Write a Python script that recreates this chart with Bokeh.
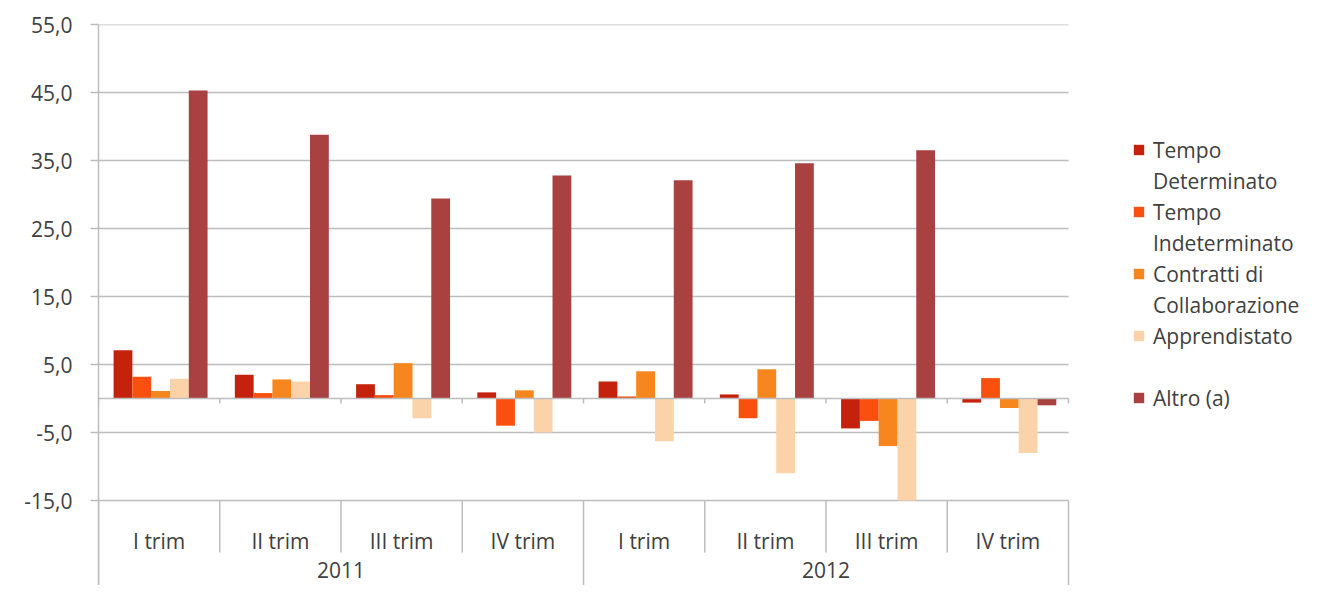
import numpy as np
from bokeh.plotting import figure
from bokeh.models import Range1d, Legend, LegendItem, ColumnDataSource
from bokeh.transform import dodge
from bokeh.embed import file_html
from bokeh.resources import INLINE
from bokeh.core.properties import value

# ---------------- data ----------------
years = ["2011", "2012"]
quarters = ["I trim", "II trim", "III trim", "IV trim"]

tempo_determinato = [7.1, 3.5, 2.1, 0.9, 2.5, 0.6, -4.4, -0.6]
tempo_indeterminato = [3.2, 0.8, 0.5, -4.0, 0.3, -2.9, -3.3, 3.0]
contratti_collaborazione = [1.1, 2.8, 5.2, 1.2, 4.0, 4.3, -7.0, -1.4]
apprendistato = [2.9, 2.5, -2.9, -5.0, -6.3, -11.0, -15.0, -8.0]
altro = [45.3, 38.8, 29.4, 32.8, 32.1, 34.6, 36.5, -1.0]

series_names = ["Tempo Determinato", "Tempo Indeterminato",
                "Contratti di Collaborazione", "Apprendistato", "Altro (a)"]
legend_lines = [["Tempo", "Determinato"], ["Tempo", "Indeterminato"],
                ["Contratti di", "Collaborazione"], ["Apprendistato", " "],
                ["Altro (a)"]]

y_ticks = [-15, -5, 5, 15, 25, 35, 45, 55]
y_tick_labels = ["-15,0", "-5,0", "5,0", "15,0", "25,0", "35,0", "45,0", "55,0"]

colors = ["#C4220C", "#FA500F", "#F7861E", "#FCD3A8", "#A8413F"]
TEXT = "#404040"
GRID = "#BDBDBD"
FONT = "Open Sans"
FS = "21px"

# ---------------- layout ----------------
W, H = 1303, 585
LEFT, TOP = 98, 24
PLOT_W = 970                      # width of the bar area in px
frame_h = H - TOP
y_min, y_max = y_ticks[0], y_ticks[-1]
axis_gap = 85
ppu = (frame_h - axis_gap) / (y_max - y_min)
y_start = y_min - axis_gap / ppu

n = len(years) * len(quarters)
ppx = PLOT_W / n
x_end = n + (W - LEFT - PLOT_W) / ppx
labels_q = [q for _ in years for q in quarters]
centers = np.arange(n) + 0.5
bw = 0.155

p = figure(width=W, height=H, output_backend="svg", toolbar_location=None,
           x_range=Range1d(0, x_end), y_range=Range1d(y_start, y_max),
           x_axis_location=None, min_border_left=LEFT, min_border_top=TOP,
           min_border_right=0, min_border_bottom=0,
           outline_line_color=None, background_fill_color="white")

p.xgrid.visible = False
p.ygrid.visible = False

ax = p.yaxis[0]
ax.ticker = y_ticks
ax.major_label_overrides = {t: l for t, l in zip(y_ticks, y_tick_labels)}
ax.axis_line_color = GRID
ax.axis_line_width = 1.5
ax.major_tick_line_color = GRID
ax.major_tick_line_width = 1.5
ax.major_tick_out = 8
ax.major_tick_in = 0
ax.minor_tick_line_color = None
ax.major_label_standoff = 18
ax.major_label_text_font = FONT
ax.major_label_text_font_size = FS
ax.major_label_text_color = TEXT

# horizontal gridlines over the bar area only
p.segment(x0=[0] * len(y_ticks), y0=y_ticks, x1=[n] * len(y_ticks), y1=y_ticks,
          line_color=GRID, line_width=1.5)

src = ColumnDataSource(dict(x=centers, td=tempo_determinato, ti=tempo_indeterminato,
                            cc=contratti_collaborazione, ap=apprendistato, al=altro))
cols = ["td", "ti", "cc", "ap", "al"]
renderers = []
for k, (c, col) in enumerate(zip(cols, colors)):
    r = p.vbar(x=dodge("x", (k - 2) * bw + 0.012, range=p.x_range), top=c, bottom=0,
               width=bw, source=src, fill_color=col, line_color=None)
    renderers.append(r)

# horizontal axis at zero with tick marks at category boundaries
bounds = np.arange(n + 1)
p.segment(x0=[0], y0=[0], x1=[n], y1=[0], line_color=GRID, line_width=1.5)
p.segment(x0=bounds, y0=np.zeros(n + 1), x1=bounds, y1=np.full(n + 1, -5 / ppu),
          line_color=GRID, line_width=1.5)

# category axis (quarters / years) below the plot
q_bounds = [b for b in bounds if b % len(quarters) != 0]
y_bounds = [b for b in bounds if b % len(quarters) == 0]
p.segment(x0=q_bounds, y0=[y_min] * len(q_bounds), x1=q_bounds,
          y1=[y_min - 52 / ppu] * len(q_bounds), line_color=GRID, line_width=1.5)
p.segment(x0=y_bounds, y0=[y_min] * len(y_bounds), x1=y_bounds,
          y1=[y_start] * len(y_bounds), line_color=GRID, line_width=1.5)

p.text(x=centers, y=[y_min] * n, text=labels_q, y_offset=40,
       text_align="center", text_baseline="middle", text_font=value(FONT),
       text_font_size=FS, text_color=TEXT)
year_centers = np.arange(len(years)) * len(quarters) + len(quarters) / 2
p.text(x=year_centers, y=[y_min] * len(years), text=years, y_offset=69,
       text_align="center", text_baseline="middle", text_font=value(FONT),
       text_font_size=FS, text_color=TEXT)

# legend
blank = p.vbar(x=[], top=[], width=0.1, fill_alpha=0, line_alpha=0)
items = []
for r, lines in zip(renderers, legend_lines):
    items.append(LegendItem(label=lines[0], renderers=[r]))
    for extra in lines[1:]:
        items.append(LegendItem(label=extra, renderers=[blank]))

legend = Legend(items=items, location=(1034, 172), padding=0, margin=0,
                spacing=0, glyph_width=13, glyph_height=13, label_standoff=8,
                label_height=31, label_text_font=FONT, label_text_font_size=FS,
                label_text_color=TEXT, border_line_alpha=0,
                background_fill_alpha=0)
p.add_layout(legend, "center")

open("out.html", "w").write(file_html(p, INLINE))
